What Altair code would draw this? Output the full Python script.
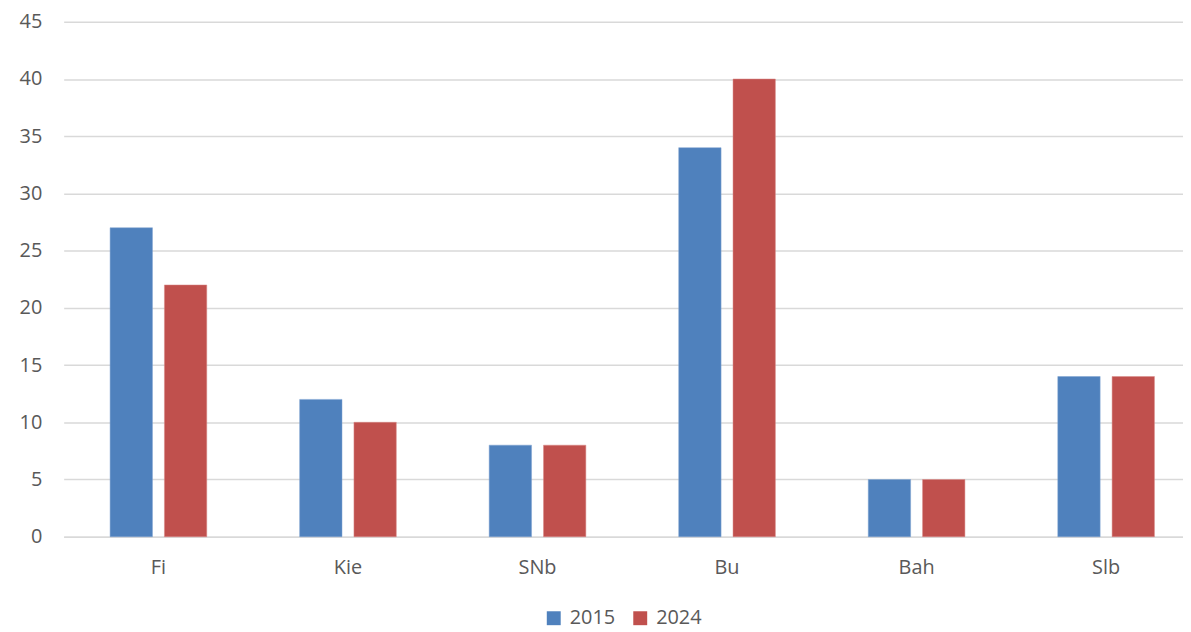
import altair as alt
import pandas as pd

categories = ["Fi", "Kie", "SNb", "Bu", "Bah", "Slb"]
values_2015 = [27, 12, 8, 34, 5, 14]
values_2024 = [22, 10, 8, 40, 5, 14]
series = ["2015", "2024"]
colors = ["#4F81BD", "#C0504D"]

rows = []
for c, a, b in zip(categories, values_2015, values_2024):
    rows.append({"cat": c, "series": series[0], "value": a})
    rows.append({"cat": c, "series": series[1], "value": b})
df = pd.DataFrame(rows)

font = "Open Sans"
chart = alt.Chart(df).mark_bar(strokeWidth=1, strokeOpacity=0.5).encode(
    x=alt.X("cat:N", sort=categories, title=None,
            scale=alt.Scale(range=[0, 1144], paddingInner=0.49, paddingOuter=0.245),
            axis=alt.Axis(labelAngle=0, labelFontSize=20, labelColor="#595959",
                          labelFont=font, ticks=False, domainColor="#D9D9D9",
                          domainWidth=1.5, labelPadding=21, grid=False)),
    xOffset=alt.XOffset("series:N", scale=alt.Scale(paddingInner=0.22, paddingOuter=0)),
    y=alt.Y("value:Q", title=None,
            scale=alt.Scale(domain=[0, 45], nice=False),
            axis=alt.Axis(values=list(range(0, 46, 5)), labelFontSize=20,
                          labelColor="#595959", labelFont=font, ticks=False,
                          domain=False, gridColor="#D9D9D9", gridWidth=1.5,
                          labelPadding=22)),
    color=alt.Color("series:N", scale=alt.Scale(domain=series, range=colors),
                    legend=alt.Legend(title=None, orient="none", direction="horizontal",
                                      legendX=483, legendY=590, symbolType="square",
                                      symbolSize=196, symbolStrokeWidth=0,
                                      labelFontSize=20, labelColor="#595959",
                                      labelFont=font, columnPadding=15, labelOffset=6,
                                      symbolOpacity=1)),
    stroke=alt.Stroke("series:N", scale=alt.Scale(domain=series, range=["#7FA3D1", "#D88A88"]), legend=None),
).properties(
    width=1126, height=518,
    autosize=alt.AutoSizeParams(type="none"),
    padding={"left": 56, "top": 12, "right": 0, "bottom": 94},
).configure_view(stroke=None)

chart.save("out.html", embed_options={"renderer": "svg", "actions": False})
